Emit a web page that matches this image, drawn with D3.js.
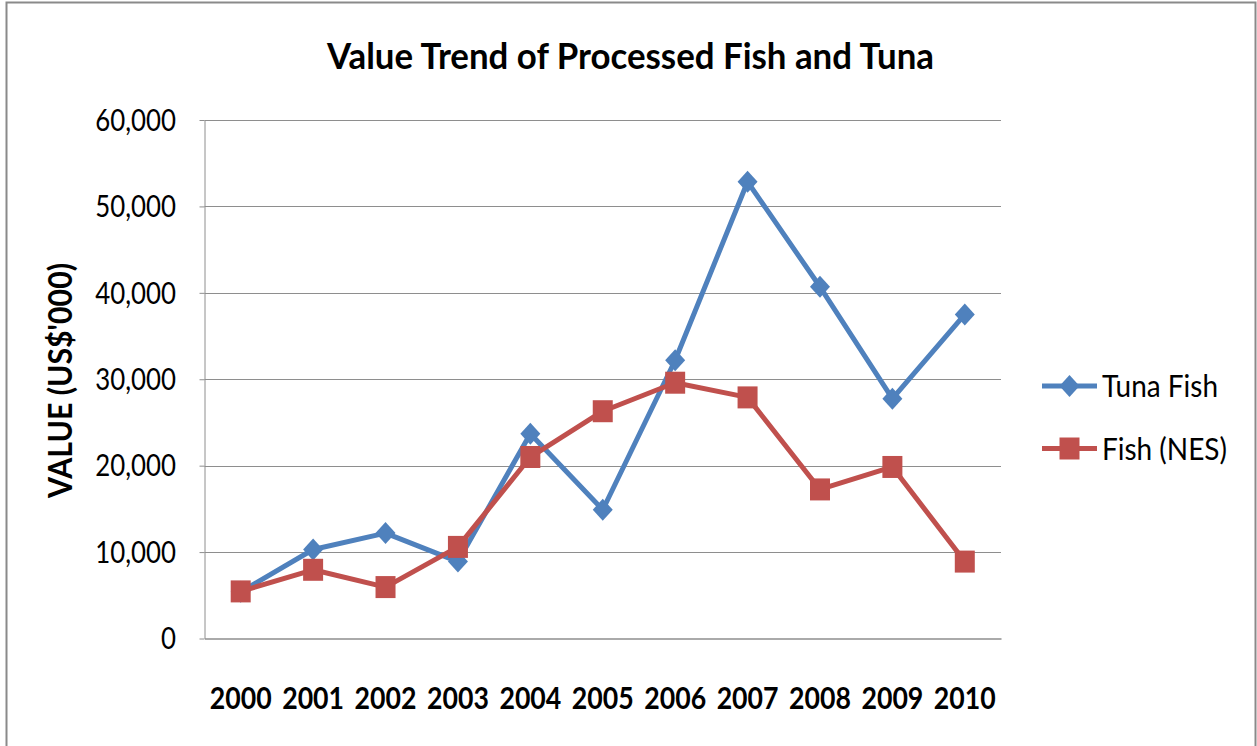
<!DOCTYPE html>
<html>
<head>
<meta charset="utf-8">
<script src="https://cdn.jsdelivr.net/npm/d3@7"></script>
<style>
  body { margin:0; background:#fff; }
  text { font-family: Lato, 'Open Sans', sans-serif; fill:#000; }
</style>
</head>
<body>
<div id="canvas" class="canvas" style="width:1257px;height:746px;"></div>
<script>
// values (US$'000)
var years = ['2000','2001','2002','2003','2004','2005','2006','2007','2008','2009','2010'];
var tunaFish = [5400, 10300, 12200, 8900, 23700, 14900, 32200, 52850, 40700, 27750, 37500];
var fishNES  = [5450, 7950, 5950, 10600, 21000, 26300, 29600, 27900, 17250, 19850, 8900];
var yTicks = [0, 10000, 20000, 30000, 40000, 50000, 60000];
var seriesNames = ['Tuna Fish', 'Fish (NES)'];

var blue = '#4f81bd', red = '#c0504d', grid = '#8e8e8e';

//margin convention
var m = {t:120, r:256, b:107.5, l:204.5};
var outerWidth = 1257, outerHeight = 746;
var w = outerWidth - m.l - m.r,
    h = outerHeight - m.t - m.b;

var svg = d3.select('.canvas')
    .append('svg')
    .attr('width', outerWidth)
    .attr('height', outerHeight);

// chart frame
svg.append('rect')
    .attr('x', 6.5).attr('y', 2.5)
    .attr('width', 1249).attr('height', 780)
    .style('fill', 'none').style('stroke', '#8a8a8a').style('stroke-width', 2);

var plot = svg.append('g')
    .attr('transform', 'translate(' + m.l + ',' + m.t + ')');

var scaleX = d3.scaleBand().domain(years).range([0, w]);
var scaleY = d3.scaleLinear().domain([0, 60000]).range([h, 0]);

// squeeze text horizontally to a width ratio (Calibri is narrower than what we have)
function squeeze(sel, k) {
  sel.each(function() {
    var len = this.getComputedTextLength();
    d3.select(this).attr('textLength', len * k).attr('lengthAdjust', 'spacingAndGlyphs');
  });
}
function fit(sel, len) {
  sel.attr('textLength', len).attr('lengthAdjust', 'spacingAndGlyphs');
}

// gridlines
plot.append('g').selectAll('line')
    .data(yTicks.filter(function(d){ return d > 0; }))
    .enter().append('line')
    .attr('x1', 0).attr('x2', w)
    .attr('y1', function(d){ return Math.round(scaleY(d)) + 0.5; })
    .attr('y2', function(d){ return Math.round(scaleY(d)) + 0.5; })
    .style('stroke', grid).style('stroke-width', 1);

// y axis
var axisY = d3.axisLeft(scaleY)
    .tickValues(yTicks)
    .tickFormat(d3.format(','))
    .tickSize(5)
    .tickSizeOuter(0)
    .tickPadding(23.5);
var yNode = plot.append('g').attr('class', 'axis');
axisY(yNode);
yNode.select('.domain').style('stroke', grid);
yNode.selectAll('line').style('stroke', grid);
yNode.selectAll('text')
    .style('font-size', '30px')
    .style('fill', '#000')
    .attr('dy', '0.34em')
    .call(squeeze, 0.86);
yNode.attr('font-family', null);
yNode.selectAll('text').attr('font-family', null);

// x axis
var axisX = d3.axisBottom(scaleX).tickSize(0).tickSizeOuter(0).tickPadding(48);
var xNode = plot.append('g').attr('class', 'axis')
    .attr('transform', 'translate(0,' + h + ')');
axisX(xNode);
xNode.attr('font-family', null);
xNode.select('.domain').style('stroke', grid).style('stroke-width', 1.5);
xNode.selectAll('text')
    .style('font-size', '31px')
    .style('font-weight', 'bold')
    .style('fill', '#000')
    .call(squeeze, 0.86);

// lines + markers
var line = d3.line()
    .x(function(d, i){ return scaleX(years[i]) + scaleX.bandwidth() / 2; })
    .y(function(d){ return scaleY(d); });

var diamond = 'M0,-11L10,0L0,11L-10,0Z';
var square = 'M-10,-11H10V11H-10Z';

function drawSeries(values, color, shape) {
  plot.append('path')
      .datum(values)
      .attr('d', line)
      .style('fill', 'none')
      .style('stroke', color)
      .style('stroke-width', 5)
      .style('stroke-linejoin', 'round');
  plot.append('g').selectAll('path')
      .data(values)
      .enter().append('path')
      .attr('d', shape)
      .attr('transform', function(d, i){
        return 'translate(' + (scaleX(years[i]) + scaleX.bandwidth() / 2) + ',' + scaleY(d) + ')';
      })
      .style('fill', color);
}
drawSeries(tunaFish, blue, diamond);
drawSeries(fishNES, red, square);

// title
svg.append('text')
    .attr('x', 630.5).attr('y', 69)
    .attr('text-anchor', 'middle')
    .style('font-size', '36px')
    .style('font-weight', 'bold')
    .text('Value Trend of Processed Fish and Tuna')
    .call(fit, 607);

// y axis title
svg.append('text')
    .attr('transform', 'translate(72,380.5) rotate(-90)')
    .attr('text-anchor', 'middle')
    .style('font-size', '32px')
    .style('font-weight', 'bold')
    .text("VALUE (US$'000)")
    .call(fit, 235);

// legend
var legend = svg.append('g').attr('transform', 'translate(1042,0)');
var legendY = [386, 448.5];
var legendW = [116, 125];
var legendColors = [blue, red];
var legendShapes = [diamond, square];
seriesNames.forEach(function(name, i) {
  var g = legend.append('g').attr('transform', 'translate(0,' + legendY[i] + ')');
  g.append('line').attr('x1', 0).attr('x2', 55)
      .style('stroke', legendColors[i]).style('stroke-width', 5);
  g.append('path').attr('d', legendShapes[i])
      .attr('transform', 'translate(27.5,0)')
      .style('fill', legendColors[i]);
  g.append('text').attr('x', 60).attr('y', 11)
      .style('font-size', '30px')
      .text(name)
      .call(fit, legendW[i]);
});
</script>
</body>
</html>
